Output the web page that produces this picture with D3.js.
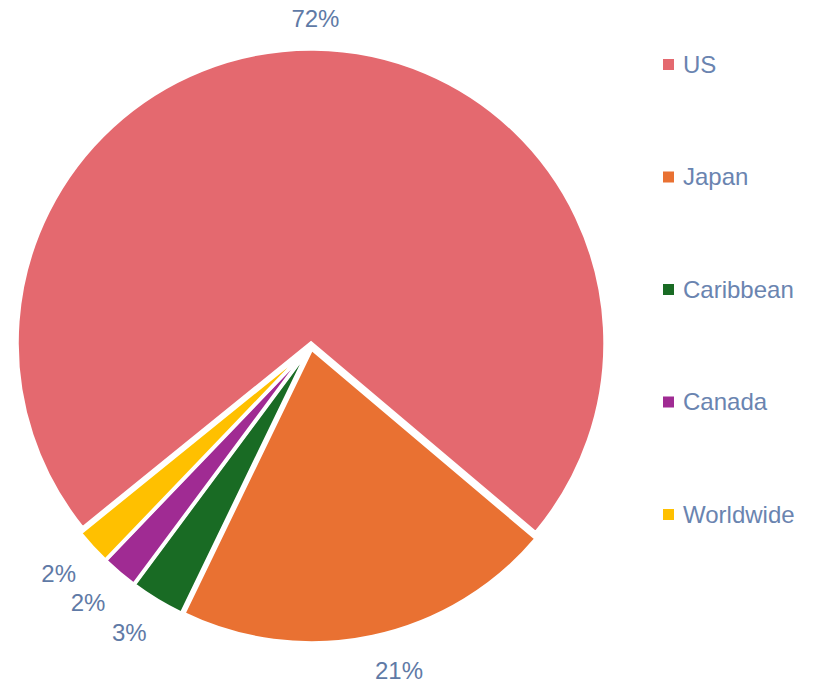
<!DOCTYPE html>
<html>
<head>
<meta charset="utf-8">
<script src="https://cdn.jsdelivr.net/npm/d3@7"></script>
<style>
  body { margin: 0; background: #fff; }
  text { font-family: "Liberation Sans", Arial, sans-serif; }
</style>
</head>
<body>
<div id="chart"></div>
<script>
// Data
const regions = ['US', 'Japan', 'Caribbean', 'Canada', 'Worldwide'];
const shares = [72, 21, 3, 2, 2];
const colors = ['#e4696f', '#e97132', '#196b24', '#a02b93', '#ffc000'];

const WIDTH = 824;
const HEIGHT = 684;
const CENTER = { x: 311, y: 346 };
const RADIUS = 294;
const EXPLODE = 3;
const LABEL_GAP = 20;
const FONT_SIZE = 24;

const svg = d3.select('#chart')
  .append('svg')
  .attr('width', WIDTH)
  .attr('height', HEIGHT);

const data = regions.map((r, i) => ({ region: r, value: shares[i], color: colors[i] }));

// start angle chosen so that Japan begins at about 4 o'clock
const startAngle = -129 * Math.PI / 180;
const pie = d3.pie()
  .value(d => d.value)
  .sort(null)
  .startAngle(startAngle)
  .endAngle(startAngle + 2 * Math.PI);

const arcs = pie(data);
const arc = d3.arc().innerRadius(0).outerRadius(RADIUS);

const g = svg.append('g')
  .attr('transform', `translate(${CENTER.x},${CENTER.y})`);

const midAngle = d => (d.startAngle + d.endAngle) / 2;

g.selectAll('path')
  .data(arcs)
  .join('path')
  .attr('d', arc)
  .attr('fill', d => d.data.color)
  .attr('stroke', '#fff')
  .attr('stroke-width', 3.5)
  .attr('transform', d => {
    const a = midAngle(d);
    return `translate(${EXPLODE * Math.sin(a)},${-EXPLODE * Math.cos(a)})`;
  });

// outside-end labels: box sits just outside the arc along the bisector
const labels = g.selectAll('text.pct')
  .data(arcs)
  .join('text')
  .attr('class', 'pct')
  .attr('text-anchor', 'middle')
  .attr('dominant-baseline', 'central')
  .attr('font-size', FONT_SIZE)
  .attr('fill', '#5f7aa6')
  .text(d => `${d.data.value}%`);

labels.each(function (d) {
  const box = this.getBBox();
  const a = midAngle(d);
  const s = Math.sin(a), c = Math.cos(a);
  const r = RADIUS + EXPLODE + LABEL_GAP + Math.abs(s) * box.width / 2 + Math.abs(c) * box.height / 2 * 0.75;
  // push sideways so the box clears the slice edge like Excel does
  const side = Math.sign(s) * box.width / 2 * (Math.min(1, 5 * Math.abs(s)) - Math.abs(s));
  d3.select(this)
    .attr('x', r * s + side)
    .attr('y', -r * c);
});

// legend
const legend = svg.append('g')
  .attr('transform', 'translate(663,0)');

const legendY = d3.scalePoint()
  .domain(regions)
  .range([64, 514]);

const items = legend.selectAll('g')
  .data(data)
  .join('g')
  .attr('transform', d => `translate(0,${legendY(d.region)})`);

items.append('rect')
  .attr('x', 0)
  .attr('y', -5)
  .attr('width', 11)
  .attr('height', 11)
  .attr('fill', d => d.color);

items.append('text')
  .attr('x', 20)
  .attr('y', 0)
  .attr('dominant-baseline', 'central')
  .attr('font-size', FONT_SIZE)
  .attr('fill', '#6a84b0')
  .text(d => d.region);
</script>
</body>
</html>
